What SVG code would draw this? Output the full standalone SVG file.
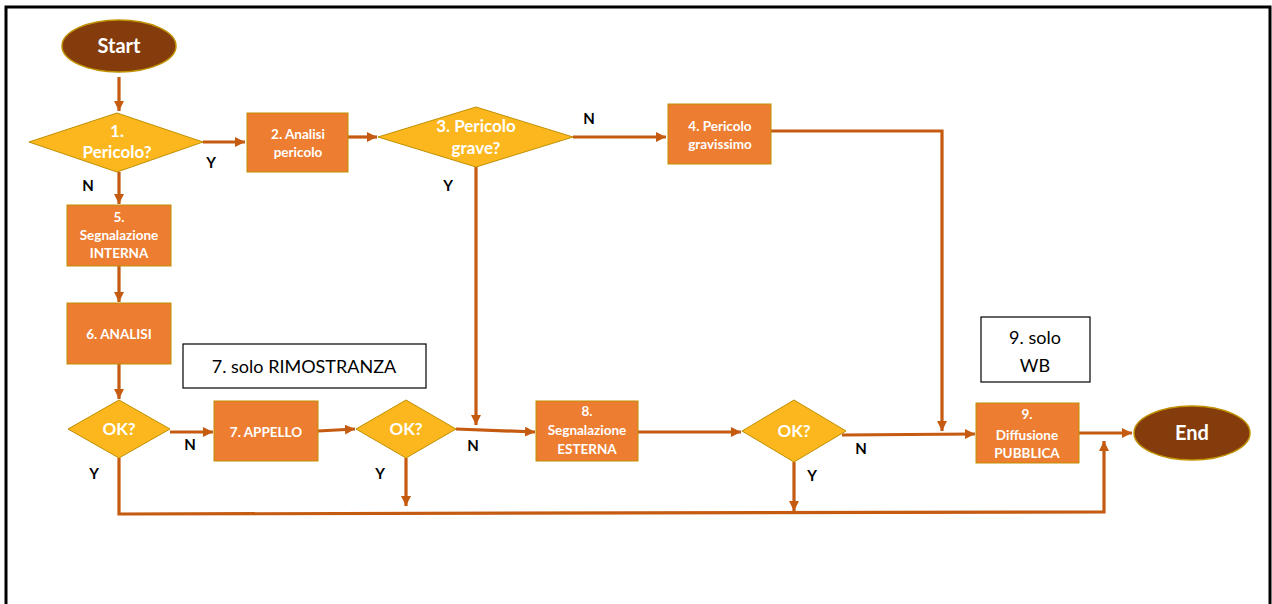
<svg xmlns="http://www.w3.org/2000/svg" width="1272" height="604" viewBox="0 0 1272 604">
<style>
.box{fill:#ED7D31;stroke:#BF9000;stroke-width:1}
.dia{fill:#FDB71E;stroke:#BF9000;stroke-width:1}
.ell{fill:#843C0C;stroke:#BF9000;stroke-width:1.5}
.note{fill:#fff;stroke:#000;stroke-width:1.2}
.t{font-family:Lato,"Liberation Sans",sans-serif;font-weight:bold;fill:#fff;text-anchor:middle}
.s{font-size:13.5px}
.m{font-size:17px}
.l{font-size:20px}
.yn{font-family:Lato,"Liberation Sans",sans-serif;font-weight:bold;font-size:15px;fill:#000;text-anchor:middle}
.nt{font-family:Lato,"Liberation Sans",sans-serif;font-size:18px;fill:#000;text-anchor:middle}
.c{fill:none;stroke:#C55A11;stroke-width:3.2}
</style>
<defs>
<marker id="ah" markerUnits="userSpaceOnUse" markerWidth="12" markerHeight="12" refX="10" refY="5" orient="auto">
<path d="M0,0 L10,5 L0,10 z" fill="#C55A11"/>
</marker>
</defs>
<rect x="0" y="0" width="1272" height="604" fill="#fff"/>
<path d="M6,606 V7 H1270 V606" fill="none" stroke="#000" stroke-width="3"/>

<g id="connectors">
<path class="c" d="M119,77 V111" marker-end="url(#ah)"/>
<path class="c" d="M203,142 H245" marker-end="url(#ah)"/>
<path class="c" d="M348,137 H377" marker-end="url(#ah)"/>
<path class="c" d="M573,137 H666" marker-end="url(#ah)"/>
<path class="c" d="M771,131 H942 V431" marker-end="url(#ah)"/>
<path class="c" d="M476,167 V425" marker-end="url(#ah)"/>
<path class="c" d="M119,172 V204" marker-end="url(#ah)"/>
<path class="c" d="M119,266 V302" marker-end="url(#ah)"/>
<path class="c" d="M119,364 V399" marker-end="url(#ah)"/>
<path class="c" d="M170,432 H213" marker-end="url(#ah)"/>
<path class="c" d="M318,431 L355,429" marker-end="url(#ah)"/>
<path class="c" d="M456,429 L535,432" marker-end="url(#ah)"/>
<path class="c" d="M638,432 H741" marker-end="url(#ah)"/>
<path class="c" d="M842,435 L975,434" marker-end="url(#ah)"/>
<path class="c" d="M1079,433 H1132" marker-end="url(#ah)"/>
<path class="c" d="M406,458 V506" marker-end="url(#ah)"/>
<path class="c" d="M794,462 V511" marker-end="url(#ah)"/>
<path class="c" d="M119,458 V514 L1104,512 V441" marker-end="url(#ah)"/>
</g>

<g id="start">
<ellipse class="ell" cx="119" cy="46" rx="57" ry="26"/>
<text class="t l" x="119" y="53">Start</text>
</g>
<g id="d1">
<polygon class="dia" points="29,142 117,113 203,142 117,172"/>
<text class="t m" x="117" y="137">1.</text>
<text class="t m" x="117" y="158">Pericolo?</text>
</g>
<g id="box2">
<rect class="box" x="247" y="113" width="101" height="59"/>
<text class="t s" x="298" y="139">2. Analisi</text>
<text class="t s" x="298" y="157">pericolo</text>
</g>
<g id="d3">
<polygon class="dia" points="378,137 476,107 573,137 476,167"/>
<text class="t m" x="476" y="132">3. Pericolo</text>
<text class="t m" x="476" y="154">grave?</text>
</g>
<g id="box4">
<rect class="box" x="668" y="104" width="103" height="60"/>
<text class="t s" x="720" y="131">4. Pericolo</text>
<text class="t s" x="720" y="149">gravissimo</text>
</g>
<g id="box5">
<rect class="box" x="67" y="205" width="104" height="61"/>
<text class="t s" x="119" y="222">5.</text>
<text class="t s" x="119" y="240">Segnalazione</text>
<text class="t s" x="119" y="258">INTERNA</text>
</g>
<g id="box6">
<rect class="box" x="67" y="303" width="104" height="61"/>
<text class="t s" x="119" y="339">6. ANALISI</text>
</g>
<g id="note7">
<rect class="note" x="183" y="344" width="243" height="44"/>
<text class="nt" x="304" y="373">7. solo RIMOSTRANZA</text>
</g>
<g id="ok1">
<polygon class="dia" points="68,429 119,400 170,429 119,458"/>
<text class="t m" x="119" y="435">OK?</text>
</g>
<g id="box7">
<rect class="box" x="214" y="401" width="104" height="60"/>
<text class="t s" x="266" y="437">7. APPELLO</text>
</g>
<g id="ok2">
<polygon class="dia" points="356,429 406,400 456,429 406,458"/>
<text class="t m" x="406" y="435">OK?</text>
</g>
<g id="box8">
<rect class="box" x="536" y="401" width="102" height="60"/>
<text class="t s" x="587" y="416">8.</text>
<text class="t s" x="587" y="435">Segnalazione</text>
<text class="t s" x="587" y="454">ESTERNA</text>
</g>
<g id="ok3">
<polygon class="dia" points="742,431 794,400 846,431 794,462"/>
<text class="t m" x="794" y="437">OK?</text>
</g>
<g id="note9">
<rect class="note" x="981" y="317" width="109" height="65"/>
<text class="nt" x="1035" y="344">9. solo</text>
<text class="nt" x="1035" y="372">WB</text>
</g>
<g id="box9">
<rect class="box" x="976" y="403" width="103" height="60"/>
<text class="t s" x="1027" y="419">9.</text>
<text class="t s" x="1027" y="440">Diffusione</text>
<text class="t s" x="1027" y="458">PUBBLICA</text>
</g>
<g id="end">
<ellipse class="ell" cx="1192" cy="433" rx="58" ry="27"/>
<text class="t l" x="1192" y="440">End</text>
</g>

<g id="labels">
<text class="yn" x="211" y="168">Y</text>
<text class="yn" x="88" y="191">N</text>
<text class="yn" x="589" y="124">N</text>
<text class="yn" x="448" y="191">Y</text>
<text class="yn" x="190" y="450">N</text>
<text class="yn" x="94" y="479">Y</text>
<text class="yn" x="380" y="479">Y</text>
<text class="yn" x="473" y="451">N</text>
<text class="yn" x="861" y="454">N</text>
<text class="yn" x="812" y="481">Y</text>
</g>
</svg>
